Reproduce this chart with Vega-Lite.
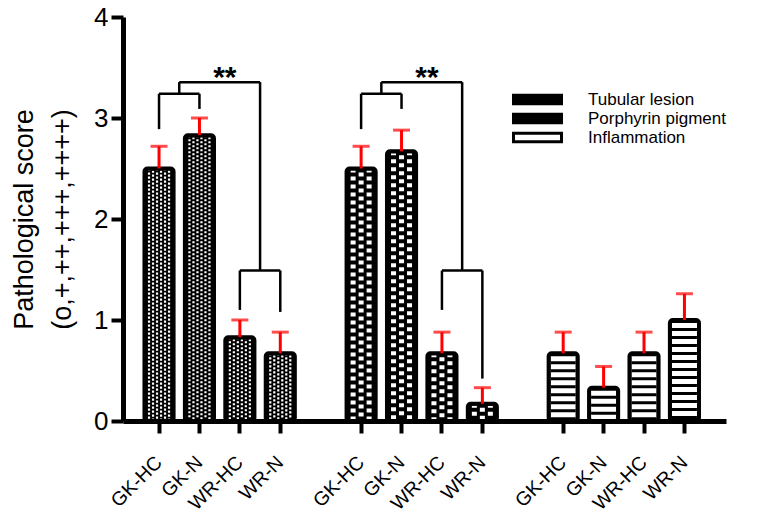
{
  "$schema": "https://vega.github.io/schema/vega-lite/v6.json",
  "width": 603,
  "height": 404,
  "autosize": {"type": "none"},
  "padding": {"left": 123, "top": 17, "right": 38, "bottom": 93},
  "config": {"view": {"stroke": null}, "font": "Liberation Sans"},
  "data": {"values": [
    {"cat": "Tubular lesion", "key": "T|GK-HC", "value": 2.5, "upper": 2.72},
    {"cat": "Tubular lesion", "key": "T|GK-N", "value": 2.83, "upper": 3.0},
    {"cat": "Tubular lesion", "key": "T|WR-HC", "value": 0.83, "upper": 1.0},
    {"cat": "Tubular lesion", "key": "T|WR-N", "value": 0.67, "upper": 0.88},
    {"cat": "Porphyrin pigment", "key": "P|GK-HC", "value": 2.5, "upper": 2.72},
    {"cat": "Porphyrin pigment", "key": "P|GK-N", "value": 2.67, "upper": 2.88},
    {"cat": "Porphyrin pigment", "key": "P|WR-HC", "value": 0.67, "upper": 0.88},
    {"cat": "Porphyrin pigment", "key": "P|WR-N", "value": 0.17, "upper": 0.33},
    {"cat": "Inflammation", "key": "I|GK-HC", "value": 0.67, "upper": 0.88},
    {"cat": "Inflammation", "key": "I|GK-N", "value": 0.33, "upper": 0.54},
    {"cat": "Inflammation", "key": "I|WR-HC", "value": 0.67, "upper": 0.88},
    {"cat": "Inflammation", "key": "I|WR-N", "value": 1.0, "upper": 1.26}
  ]},
  "encoding": {
    "x": {
      "field": "key", "type": "nominal", "sort": null,
      "scale": {
        "domain": ["T|GK-HC", "T|GK-N", "T|WR-HC", "T|WR-N", "gap1", "P|GK-HC", "P|GK-N", "P|WR-HC", "P|WR-N", "gap2", "I|GK-HC", "I|GK-N", "I|WR-HC", "I|WR-N"],
        "paddingInner": 0.28, "paddingOuter": 0.6, "align": 0.443
      },
      "axis": {
        "title": null,
        "labelExpr": "indexof(datum.value, '|') >= 0 ? slice(datum.value, 2) : ''",
        "labelAngle": -45, "labelAlign": "right", "labelBaseline": "middle",
        "labelFontSize": 19.5, "labelColor": "black", "labelPadding": 26,
        "labelOverlap": false, "labelFlush": false,
        "domainColor": "black", "domainWidth": 5,
        "tickColor": "black", "tickWidth": 4, "tickSize": 12,
        "tickOpacity": {"condition": {"test": "indexof(datum.value, '|') < 0", "value": 0}, "value": 1},
        "grid": false
      }
    },
    "y": {
      "field": "value", "type": "quantitative",
      "title": ["Pathological score", "(o,+,++,+++,++++)"],
      "scale": {"domain": [0, 4], "nice": false},
      "axis": {
        "values": [0, 1, 2, 3, 4], "grid": false,
        "domainColor": "black", "domainWidth": 5,
        "tickColor": "black", "tickWidth": 4, "tickSize": 12,
        "labelFontSize": 26, "labelColor": "black", "labelPadding": 3,
        "titleFontSize": 27, "titleFontWeight": "normal", "titleColor": "black",
        "titlePadding": 17, "titleLineHeight": 38
      }
    }
  },
  "layer": [
    {
      "mark": {"type": "bar", "cornerRadius": 3},
      "encoding": {
        "fill": {
          "field": "cat", "type": "nominal",
          "scale": {"domain": ["Tubular lesion", "Porphyrin pigment", "Inflammation"], "range": ["#000000", "#000000", "#ffffff"]},
          "legend": {
            "title": null, "orient": "none", "legendX": 406, "legendY": 74,
            "symbolType": "M-4,-0.7H4V0.7H-4Z", "symbolSize": 144,
            "symbolStrokeColor": "black", "symbolStrokeWidth": 3, "symbolOpacity": 1,
            "labelFontSize": 17, "labelColor": "black", "labelOffset": 42,
            "rowPadding": -5, "padding": 0,
            "encode": {"symbols": {"update": {"stroke": {"value": "black"}, "strokeWidth": {"value": 3}}}}
          }
        }
      }
    },
    {"transform": [{"filter": "datum.cat === 'Tubular lesion'"}],
     "mark": {"type": "rule", "color": "white", "strokeWidth": 2.2, "strokeDash": [2.2, 1.8], "strokeDashOffset": 0, "xOffset": -10},
     "encoding": {"y2": {"datum": 0}}},
    {"transform": [{"filter": "datum.cat === 'Tubular lesion'"}],
     "mark": {"type": "rule", "color": "white", "strokeWidth": 2.2, "strokeDash": [2.2, 1.8], "strokeDashOffset": 2, "xOffset": -6},
     "encoding": {"y2": {"datum": 0}}},
    {"transform": [{"filter": "datum.cat === 'Tubular lesion'"}],
     "mark": {"type": "rule", "color": "white", "strokeWidth": 2.2, "strokeDash": [2.2, 1.8], "strokeDashOffset": 0, "xOffset": -2},
     "encoding": {"y2": {"datum": 0}}},
    {"transform": [{"filter": "datum.cat === 'Tubular lesion'"}],
     "mark": {"type": "rule", "color": "white", "strokeWidth": 2.2, "strokeDash": [2.2, 1.8], "strokeDashOffset": 2, "xOffset": 2},
     "encoding": {"y2": {"datum": 0}}},
    {"transform": [{"filter": "datum.cat === 'Tubular lesion'"}],
     "mark": {"type": "rule", "color": "white", "strokeWidth": 2.2, "strokeDash": [2.2, 1.8], "strokeDashOffset": 0, "xOffset": 6},
     "encoding": {"y2": {"datum": 0}}},
    {"transform": [{"filter": "datum.cat === 'Tubular lesion'"}],
     "mark": {"type": "rule", "color": "white", "strokeWidth": 2.2, "strokeDash": [2.2, 1.8], "strokeDashOffset": 2, "xOffset": 10},
     "encoding": {"y2": {"datum": 0}}},
    {"transform": [{"filter": "datum.cat === 'Porphyrin pigment'"}],
     "mark": {"type": "rule", "color": "white", "strokeWidth": 5, "strokeDash": [4, 4], "strokeDashOffset": 0, "xOffset": -8},
     "encoding": {"y2": {"datum": 0}}},
    {"transform": [{"filter": "datum.cat === 'Porphyrin pigment'"}],
     "mark": {"type": "rule", "color": "white", "strokeWidth": 5, "strokeDash": [4, 4], "strokeDashOffset": 4, "xOffset": 0},
     "encoding": {"y2": {"datum": 0}}},
    {"transform": [{"filter": "datum.cat === 'Porphyrin pigment'"}],
     "mark": {"type": "rule", "color": "white", "strokeWidth": 5, "strokeDash": [4, 4], "strokeDashOffset": 0, "xOffset": 8},
     "encoding": {"y2": {"datum": 0}}},
    {"transform": [{"filter": "datum.cat === 'Inflammation'"}],
     "mark": {"type": "rule", "color": "black", "strokeWidth": 25, "strokeDash": [3, 5], "strokeDashOffset": 0},
     "encoding": {"y2": {"datum": 0}}},
    {
      "mark": {"type": "bar", "fill": "transparent", "stroke": "black", "strokeWidth": 4, "cornerRadius": 3},
      "encoding": {}
    },
    {
      "mark": {"type": "rule", "color": "#ff0000", "strokeWidth": 3},
      "encoding": {"y2": {"field": "upper"}}
    },
    {
      "mark": {"type": "tick", "color": "#ff0000", "thickness": 3, "size": 17},
      "encoding": {"y": {"field": "upper", "type": "quantitative", "title": ["Pathological score", "(o,+,++,+++,++++)"]}}
    },
    {
      "data": {"values": [
        {"key": "T|GK-HC", "value": 2.89, "value2": 3.24},
        {"key": "T|GK-N", "value": 3.09, "value2": 3.24},
        {"key": "T|WR-HC", "value": 1.10, "value2": 1.49},
        {"key": "T|WR-N", "value": 1.08, "value2": 1.49},
        {"key": "P|GK-HC", "value": 2.89, "value2": 3.24},
        {"key": "P|GK-N", "value": 3.09, "value2": 3.24},
        {"key": "P|WR-HC", "value": 1.10, "value2": 1.49},
        {"key": "P|WR-N", "value": 0.42, "value2": 1.49}
      ]},
      "mark": {"type": "rule", "color": "black", "strokeWidth": 2.5},
      "encoding": {"y2": {"field": "value2"}}
    },
    {
      "data": {"values": [
        {"key": "T|GK-HC", "key2": "T|GK-N", "value": 3.24},
        {"key": "T|WR-HC", "key2": "T|WR-N", "value": 1.49},
        {"key": "P|GK-HC", "key2": "P|GK-N", "value": 3.24},
        {"key": "P|WR-HC", "key2": "P|WR-N", "value": 1.49}
      ]},
      "mark": {"type": "rule", "color": "black", "strokeWidth": 2.5},
      "encoding": {"x2": {"field": "key2"}}
    },
    {
      "data": {"values": [
        {"key": "T|GK-N", "value": 3.24, "value2": 3.355},
        {"key": "T|WR-N", "value": 1.49, "value2": 3.355},
        {"key": "P|GK-N", "value": 3.24, "value2": 3.355},
        {"key": "P|WR-N", "value": 1.49, "value2": 3.355}
      ]},
      "mark": {"type": "rule", "color": "black", "strokeWidth": 2.5, "xOffset": -20.2},
      "encoding": {"y2": {"field": "value2"}}
    },
    {
      "data": {"values": [
        {"key": "T|GK-N", "key2": "T|WR-N", "value": 3.355},
        {"key": "P|GK-N", "key2": "P|WR-N", "value": 3.355}
      ]},
      "mark": {"type": "rule", "color": "black", "strokeWidth": 2.5, "xOffset": -20.2, "x2Offset": -20.2},
      "encoding": {"x2": {"field": "key2"}}
    },
    {
      "data": {"values": [
        {"key": "T|WR-HC", "value": 3.31},
        {"key": "P|WR-HC", "value": 3.31}
      ]},
      "mark": {"type": "text", "text": "**", "fontSize": 30, "fontWeight": "bold", "color": "black", "baseline": "alphabetic", "align": "center", "xOffset": -15},
      "encoding": {}
    }
  ]
}
